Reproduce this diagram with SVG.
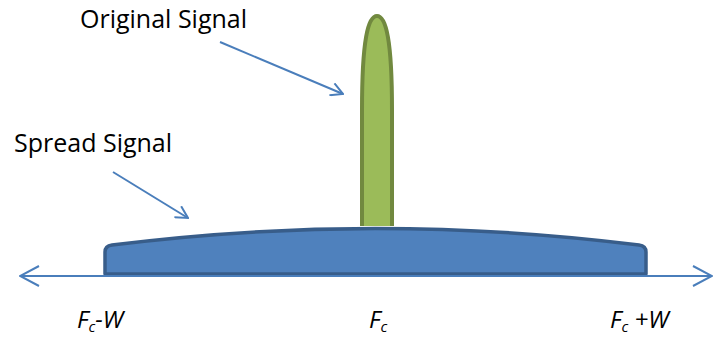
<svg xmlns="http://www.w3.org/2000/svg" width="714" height="340" viewBox="0 0 714 340">
<defs>
<style>
.lbl{font-family:"Open Sans","Liberation Sans",sans-serif;font-size:25px;fill:#000}
.ax{font-family:"Open Sans","Liberation Sans",sans-serif;font-size:24px;font-style:italic;fill:#000}
.sub{font-size:15px}
.ln{stroke:#4a7ebb;stroke-width:2;fill:none}
</style>
<marker id="v" viewBox="0 0 14 14" refX="13" refY="7" markerWidth="14" markerHeight="14" markerUnits="userSpaceOnUse" orient="auto-start-reverse">
<path d="M1,0.5 L13,7 L1,13.5" fill="none" stroke="#4a7ebb" stroke-width="2"/>
</marker>
<marker id="ax" viewBox="0 0 22 22" refX="21" refY="11" markerWidth="22" markerHeight="22" markerUnits="userSpaceOnUse" orient="auto-start-reverse">
<path d="M2,1 L21,11 L2,21" fill="none" stroke="#4a7ebb" stroke-width="2"/>
</marker>
</defs>
<g id="spread">
<path d="M105,274 L105,252 Q105,246 112,245 Q375,212 639,245 Q646,246 646,252 L646,274 Z" fill="#4f81bd" stroke="#385d8a" stroke-width="3.5" stroke-linejoin="round"/>
</g>
<g id="original">
<path d="M362,226 L362,110 C362,40 368,16 377,16 C386,16 392,40 392,110 L392,226" fill="#9bbb59" stroke="#71893f" stroke-width="4"/>
</g>
<g id="connectors">
<line class="ln" x1="20" y1="276" x2="712" y2="276" marker-start="url(#ax)" marker-end="url(#ax)"/>
<line class="ln" x1="220" y1="42" x2="343" y2="94" marker-end="url(#v)"/>
<line class="ln" x1="113" y1="172" x2="188" y2="218" marker-end="url(#v)"/>
</g>
<g id="labels">
<text class="ax" x="77" y="328">F<tspan class="sub" dy="4">c</tspan><tspan dy="-4">-W</tspan></text>
<text class="ax" x="369" y="328">F<tspan class="sub" dy="4">c</tspan></text>
<text class="ax" x="610" y="328">F<tspan class="sub" dy="4">c</tspan><tspan dy="-4"> +W</tspan></text>
<text class="lbl" x="80" y="28">Original Signal</text>
<text class="lbl" x="14" y="152">Spread Signal</text>
</g>
</svg>
